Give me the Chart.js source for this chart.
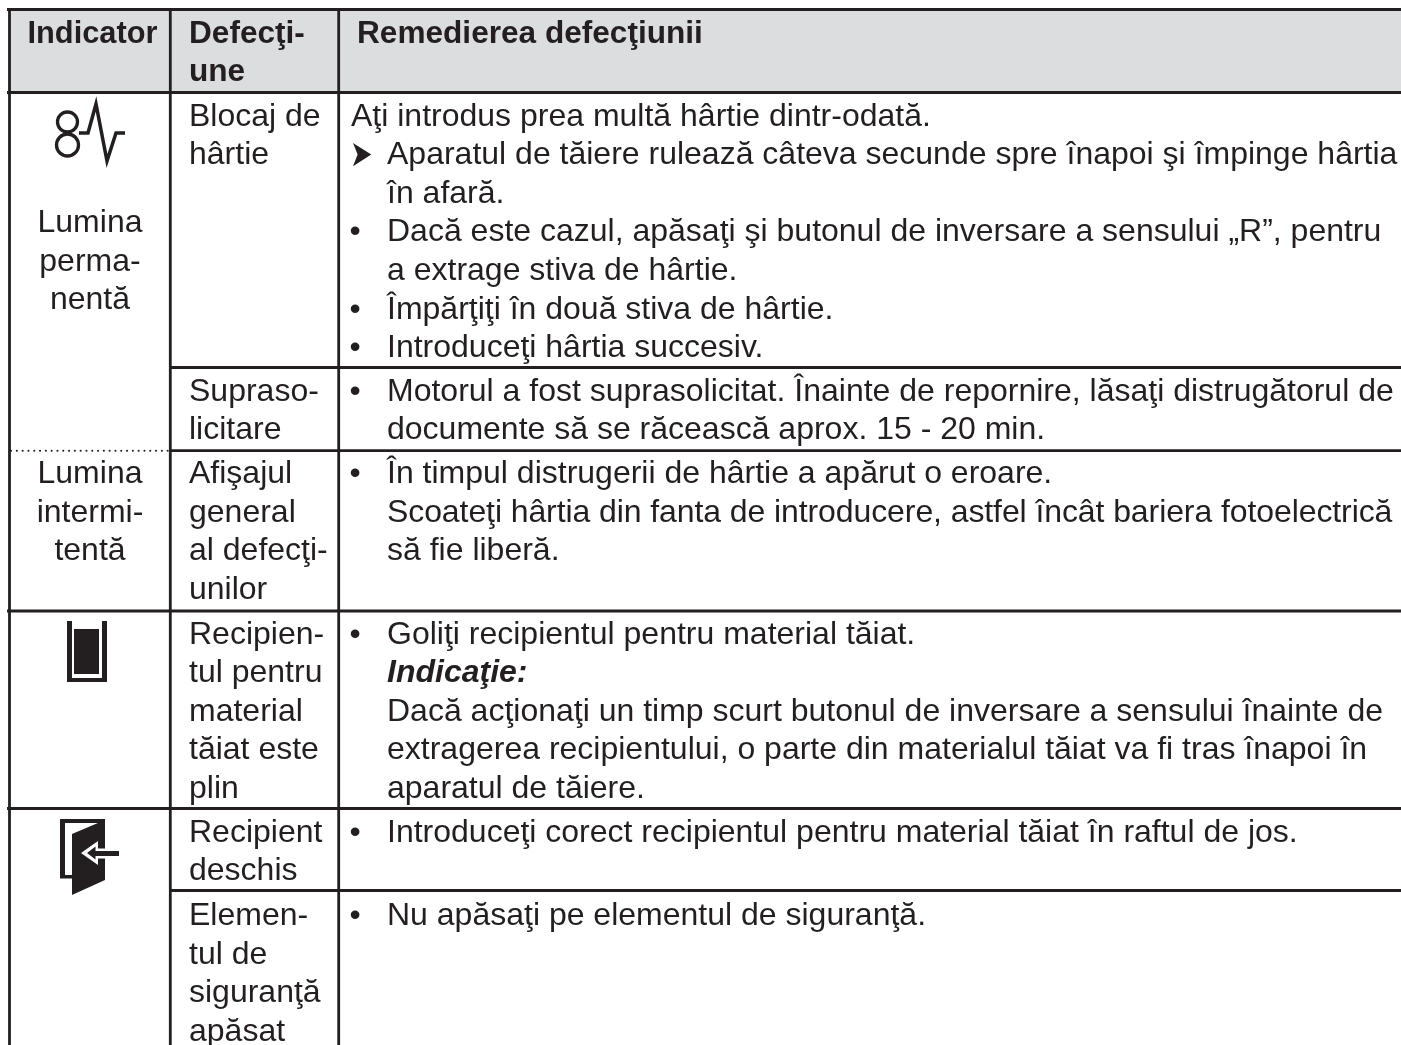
<!DOCTYPE html>
<html><head><meta charset="utf-8">
<style>html,body{margin:0;padding:0;background:#fff}canvas{display:block}</style>
<script src="https://cdn.jsdelivr.net/npm/chart.js@4/dist/chart.umd.js"></script>
</head><body><canvas id="c" width="1401" height="1045"></canvas>
<script>
const headers = [["Indicator"],["Defecţi-","une"],["Remedierea defecţiunii"]];
const indicators = [
  ["Lumina","perma-","nentă"],
  ["Lumina","intermi-","tentă"]
];
const faults = [
  ["Blocaj de","hârtie"],
  ["Supraso-","licitare"],
  ["Afişajul","general","al defecţi-","unilor"],
  ["Recipien-","tul pentru","material","tăiat este","plin"],
  ["Recipient","deschis"],
  ["Elemen-","tul de","siguranţă","apăsat"]
];
const remedies = [
  [["","Aţi introdus prea multă hârtie dintr-odată."],
   ["➤","Aparatul de tăiere rulează câteva secunde spre înapoi şi împinge hârtia"],
   ["","în afară."],
   ["•","Dacă este cazul, apăsaţi şi butonul de inversare a sensului „R”, pentru"],
   ["","a extrage stiva de hârtie."],
   ["•","Împărţiţi în două stiva de hârtie."],
   ["•","Introduceţi hârtia succesiv."]],
  [["•","Motorul a fost suprasolicitat. Înainte de repornire, lăsaţi distrugătorul de"],
   ["","documente să se răcească aprox. 15 - 20 min."]],
  [["•","În timpul distrugerii de hârtie a apărut o eroare."],
   ["","Scoateţi hârtia din fanta de introducere, astfel încât bariera fotoelectrică","-0.09px"],
   ["","să fie liberă."]],
  [["•","Goliţi recipientul pentru material tăiat."],
   ["*","Indicaţie:"],
   ["","Dacă acţionaţi un timp scurt butonul de inversare a sensului înainte de"],
   ["","extragerea recipientului, o parte din materialul tăiat va fi tras înapoi în"],
   ["","aparatul de tăiere."]],
  [["•","Introduceţi corect recipientul pentru material tăiat în raftul de jos."]],
  [["•","Nu apăsaţi pe elementul de siguranţă."]]
];
// table grid, in axis units
const colEdges = [9.5,170.3,338.7,1401];
const rowEdges = [9.5,92.5,367.5,450.7,611,808.5,890.5,1045];
const fullRows = [0,1,4,5];     // rowEdges indices ruled across whole width
const partRows = [2,3,6];       // ruled from second column
const cellBaselines = [125.5,400.7,483,643.5,841.7,925];
const indicatorBaselines = [232,483];
const LH = 38.6, FONT = 'Liberation Sans', SIZE = 32, BOLD = 31.6, INK = '#231f20';

const rule = (x0,y0,x1,y1,w=2.8,dash)=>({type:'line',data:[{x:x0,y:y0},{x:x1,y:y1}],borderColor:INK,borderWidth:w,borderDash:dash,borderCapStyle:dash?'round':'butt',pointRadius:0,fill:false,parsing:false});
const datasets = [];
colEdges.slice(0,3).forEach(x=>datasets.push(rule(x,8,x,1045)));
fullRows.forEach(i=>datasets.push(rule(7,rowEdges[i],1401,rowEdges[i])));
partRows.forEach(i=>datasets.push(rule(colEdges[1],rowEdges[i],1401,rowEdges[i])));
datasets.push(rule(11,rowEdges[3],168,rowEdges[3],2,[0.1,5.7]));

const tablePlugin = {
  id:'table',
  beforeDatasetsDraw(ch){
    const c=ch.ctx,X=v=>ch.scales.x.getPixelForValue(v),Y=v=>ch.scales.y.getPixelForValue(v);
    c.save();c.fillStyle='#dcddde';
    c.fillRect(X(colEdges[0]),Y(rowEdges[0]),X(1401)-X(colEdges[0]),Y(rowEdges[1])-Y(rowEdges[0]));
    c.restore();
  },
  afterDatasetsDraw(ch){
    const c=ch.ctx,X=v=>ch.scales.x.getPixelForValue(v),Y=v=>ch.scales.y.getPixelForValue(v);
    c.save();c.fillStyle=INK;c.strokeStyle=INK;c.textBaseline='alphabetic';
    const t=(s,x,y,f,al='left')=>{c.font=f;c.textAlign=al;c.fillText(s,X(x),Y(y));};
    const bold=`bold ${BOLD}px "${FONT}"`,reg=`${SIZE}px "${FONT}"`,bi=`italic bold ${SIZE}px "${FONT}"`;
    t(headers[0][0],27.5,43,`bold 30.8px "${FONT}"`);
    headers[1].forEach((s,i)=>t(s,189,43+i*37.5,bold));
    t(headers[2][0],357,43,bold);
    indicators.forEach((cell,k)=>cell.forEach((s,i)=>t(s,90,indicatorBaselines[k]+i*LH,reg,'center')));
    faults.forEach((cell,k)=>cell.forEach((s,i)=>t(s,189,cellBaselines[k]+i*LH,reg)));
    remedies.forEach((cell,k)=>cell.forEach((r,i)=>{
      const y=cellBaselines[k]+i*LH;
      if(r[0]==='•')t('•',349.5,y,reg);
      if(r[0]==='➤'){
        c.save();c.translate(X(350),Y(y+2));c.scale(1,1.35);
        c.font=`27px "DejaVu Sans"`;c.textAlign='left';c.fillText('➤',0,0);c.restore();
      }
      const first=k===0&&i===0;
      c.letterSpacing=r[2]||'0px';
      t(r[1],first?351:387,y,r[0]==='*'?bi:reg);
      c.letterSpacing='0px';
    }));
    // indicator pictograms
    c.lineWidth=3.3;c.lineJoin='miter';
    const circ=(x,y,r)=>{c.beginPath();c.arc(X(x),Y(y),r,0,7);c.stroke();};
    circ(67.5,122,10);circ(67.5,145,11);
    const poly=(pts,fill)=>{c.beginPath();pts.forEach((p,i)=>i?c.lineTo(X(p[0]),Y(p[1])):c.moveTo(X(p[0]),Y(p[1])));if(fill){c.closePath();c.fill();}else c.stroke();};
    c.lineWidth=3.5;
    poly([[79,133],[88,133],[96,104],[107,161],[116,133],[125,133]]);
    // bin
    c.fillRect(X(67),Y(621),5,61);c.fillRect(X(102),Y(621),5,61);c.fillRect(X(67),Y(678),40,4);
    c.fillRect(X(74),Y(629),25,45);
    // door
    c.fillRect(X(60),Y(819),45,4);c.fillRect(X(60),Y(819),5,59);c.fillRect(X(60),Y(875),14,3.5);
    poly([[72,834],[105,820],[105,880],[72,895]],true);
    c.fillStyle='#fff';
    poly([[81,853],[98,841],[98,848.5],[105,848.5],[105,858.5],[98,858.5],[98,865]],true);
    c.fillStyle=INK;
    poly([[87,853],[95.5,846.5],[95.5,851],[119,851],[119,856],[95.5,856],[95.5,859.5]],true);
    c.restore();
  }
};

new Chart(document.getElementById('c'),{
  type:'scatter',
  data:{datasets},
  options:{responsive:false,animation:false,devicePixelRatio:1,
    layout:{padding:0},
    plugins:{legend:{display:false},tooltip:{enabled:false},title:{display:false}},
    scales:{
      x:{type:'linear',min:0,max:1401,display:false},
      y:{type:'linear',min:0,max:1045,reverse:true,display:false}
    }},
  plugins:[tablePlugin]
});
</script></body></html>
